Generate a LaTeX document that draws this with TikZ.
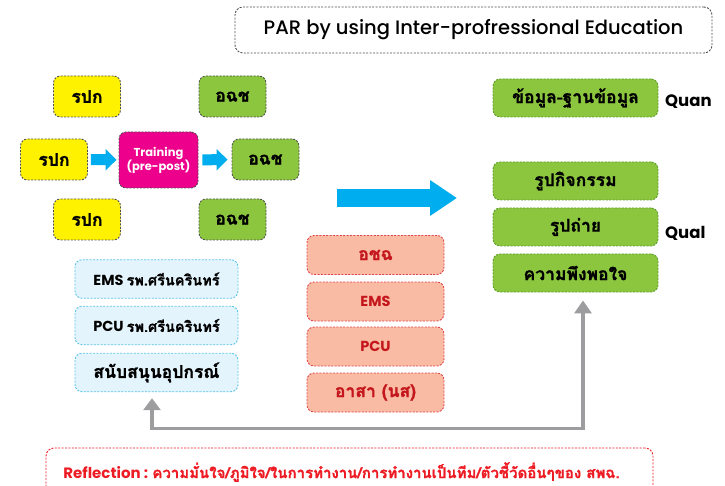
\documentclass[tikz,border=0pt]{standalone}
\usepackage{fontspec}
\setmainfont{Poppins}
\newfontfamily\thaifont[Script=Thai, FakeBold=1.2]{Loma}
\newfontfamily\headfont{Poppins}[UprightFont={* Medium}]
\usetikzlibrary{arrows.meta,calc}

\definecolor{ypk}{HTML}{FFF200}
\definecolor{gleaf}{HTML}{8CC63F}
\definecolor{gedge}{HTML}{5E9E2A}
\definecolor{mag}{HTML}{EC008C}
\definecolor{sky}{HTML}{00AEEF}
\definecolor{iceblue}{HTML}{E3F4FC}
\definecolor{iceedge}{HTML}{5BC4E8}
\definecolor{salmon}{HTML}{F9BBA3}
\definecolor{salmonedge}{HTML}{E0454D}
\definecolor{salmontext}{HTML}{C4161C}
\definecolor{reflred}{HTML}{ED1C24}
\definecolor{linkgray}{HTML}{9D9D9F}
\definecolor{darkedge}{HTML}{505050}

\newcommand\thx[1]{{\thaifont #1}}

\begin{document}
\begin{tikzpicture}[x=1pt,y=-1pt,
  boxbase/.style={rounded corners=7pt, inner sep=0pt, line width=0.9pt,
    dash pattern=on 2pt off 1.4pt, align=center, font=\bfseries},
  ybox/.style={boxbase, draw=darkedge, fill=ypk, text=black,
    minimum width=67pt, minimum height=41pt},
  gbox/.style={boxbase, draw=darkedge, fill=gleaf, text=black,
    minimum width=67pt, minimum height=41pt},
  tbox/.style={boxbase, draw=darkedge, fill=mag, text=white,
    minimum width=79pt, minimum height=56pt},
  rbox/.style={boxbase, draw=gedge, fill=gleaf, text=black,
    minimum width=165pt, minimum height=38pt},
  bbox/.style={boxbase, draw=iceedge, fill=iceblue, text=black,
    minimum width=163pt, minimum height=38.5pt},
  sbox/.style={boxbase, draw=salmonedge, fill=salmon, text=salmontext,
    minimum width=137pt, minimum height=39pt},
  bluearrow/.style={draw=sky, line width=11pt,
    -{Triangle[length=11pt,width=21pt]}},
  bigarrow/.style={draw=sky, line width=18pt,
    -{Triangle[length=27pt,width=34pt]}},
  graylink/.style={draw=linkgray, line width=3.2pt,
    {Triangle[length=12pt,width=17pt]}-{Triangle[length=13pt,width=17pt]}},
  thaisize/.style={font=\bfseries\fontsize{17.5}{20}\selectfont},
  latsize/.style={font=\bfseries\fontsize{14.5}{17}\selectfont},
  labelside/.style={anchor=west, inner sep=0pt, font=\bfseries\fontsize{16.5}{19}\selectfont}
]
\useasboundingbox (0,0) rectangle (725,486);

% title
\node[rounded corners=8pt, draw=darkedge, line width=0.9pt,
      dash pattern=on 2pt off 1.4pt, minimum width=477pt, minimum height=46pt,
      inner sep=0pt, font=\headfont\fontsize{19.5}{22}\selectfont]
  (title) at (473.5,30) {PAR by using Inter-profressional Education};

% left training group
\node[ybox, thaisize] (y1) at (87,96.5) {\thx{รปก}};
\node[ybox, thaisize] (y2) at (54,159.5) {\thx{รปก}};
\node[ybox, thaisize] (y3) at (87,219.5) {\thx{รปก}};
\node[tbox, font=\bfseries\fontsize{11.5}{14}\selectfont] (train) at (158.5,160)
  {Training\\(pre-post)};
\node[gbox, thaisize] (g1) at (232.5,96.5) {\thx{อฉช}};
\node[gbox, thaisize] (g2) at (265.5,159.5) {\thx{อฉช}};
\node[gbox, thaisize] (g3) at (232.5,219.5) {\thx{อฉช}};

\draw[bluearrow, shorten <=3pt, shorten >=2pt] (y2) -- (train);
\draw[bluearrow, shorten <=4pt, shorten >=4pt] (train) -- (g2);

% supporting units
\node[bbox, latsize] (b1) at (156.5,279) {EMS \thx{รพ.ศรีนครินทร์}};
\node[bbox, latsize] (b2) at (156.5,325.5) {PCU \thx{รพ.ศรีนครินทร์}};
\node[bbox, thaisize] (b3) at (156.5,372.5) {\thx{สนับสนุนอุปกรณ์}};

% participants
\node[sbox, thaisize] (s1) at (375.5,255) {\thx{อชฉ}};
\node[sbox, latsize] (s2) at (375.5,301.5) {EMS};
\node[sbox, latsize] (s3) at (375.5,346.5) {PCU};
\node[sbox, thaisize] (s4) at (375.5,392.5) {\thx{อาสา (นส)}};

% outcomes
\node[rbox, thaisize] (r1) at (575.5,98) {\thx{ข้อมูล-ฐานข้อมูล}};
\node[rbox, thaisize] (r2) at (575.5,181) {\thx{รูปกิจกรรม}};
\node[rbox, thaisize] (r3) at (575.5,227) {\thx{รูปถ่าย}};
\node[rbox, thaisize] (r4) at (575.5,273) {\thx{ความพึงพอใจ}};
\node[labelside] (quan) at (665,102) {Quan};
\node[labelside] (qual) at (665,233) {Qual};

% main flow arrow
\coordinate (bigstart) at (337,198);
\coordinate (bigend) at (457,198);
\draw[bigarrow] (bigstart) -- (bigend);

% feedback loop
\draw[graylink] ($(b3.south)+(-4.5,6)$) -- ++(0,30) -| ($(r4.south)+(7.5,8)$);

% reflection (trailing space keeps the line a little left of centre)
\node[rounded corners=8pt, draw=reflred, line width=0.9pt,
      dash pattern=on 2pt off 1.4pt, minimum width=607pt, minimum height=48pt,
      inner sep=0pt, text=reflred, font=\bfseries\fontsize{15}{18}\selectfont]
  (refl) at (349.5,472)
  {Reflection : \thx{ความมั่นใจ/ภูมิใจ/ในการทำงาน/การทำงานเป็นทีม/ตัวชี้วัดอื่นๆของ สพฉ.}\hspace*{16pt}};
\end{tikzpicture}
\end{document}
